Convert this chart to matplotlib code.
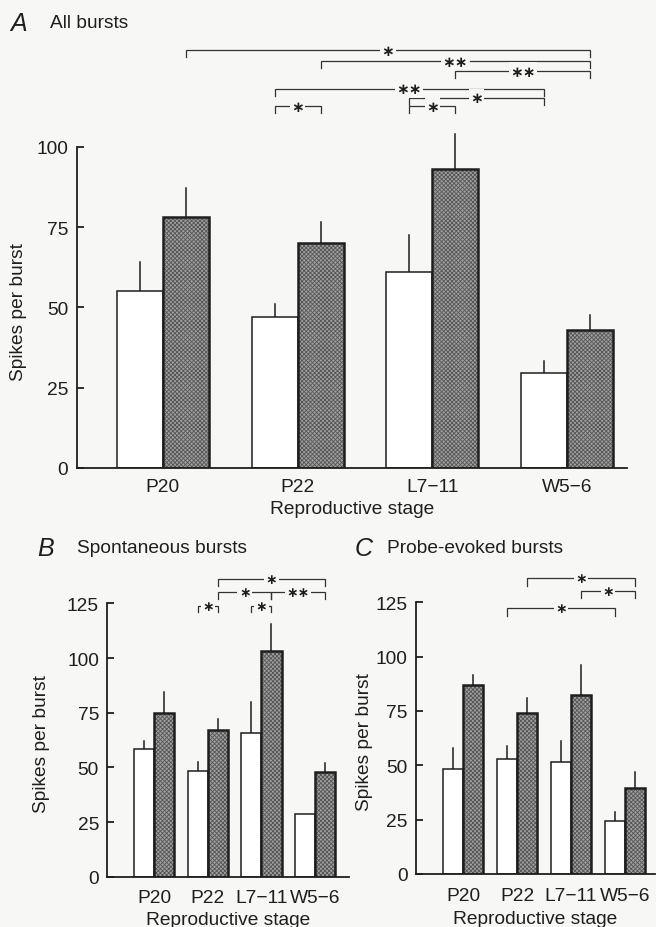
import matplotlib
matplotlib.use("Agg")
import matplotlib.pyplot as plt
import numpy as np

plt.rcParams['font.family'] = ['Liberation Sans', 'DejaVu Sans']
plt.rcParams['hatch.linewidth'] = 0.6

STAGES = ["P20", "P22", "L7\u221211", "W5\u22126"]

# panel A: all bursts
A_WHITE = [55, 47, 61, 29.5]
A_WHITE_ERR = [9, 4, 11.5, 3.7]
A_GREY = [78, 70, 93, 43]
A_GREY_ERR = [9, 6.5, 11, 4.5]
# (start bar, end bar, level, label); bar index = 2*group + (0 white, 1 grey)
A_SIG = [(1, 7, 130, "*"), (3, 7, 126.6, "**"), (5, 7, 123.5, "**"),
         (2, 6, 118, "**"), (4, 6, 115.3, "*"), (2, 3, 112.6, "*"), (4, 5, 112.6, "*")]

# panel B: spontaneous bursts
B_WHITE = [58.5, 48.5, 65.5, 28.5]
B_WHITE_ERR = [3.5, 4, 14.5, 0]
B_GREY = [75, 67, 103, 48]
B_GREY_ERR = [9.5, 5, 12.5, 4]
B_SIG = [(3, 7, 136, "*"), (3, 5, 130, "*"), (5, 7, 130, "**"),
         (2, 3, 124, "*"), (4, 5, 124, "*")]

# panel C: probe-evoked bursts
C_WHITE = [48.5, 53, 51.5, 24.5]
C_WHITE_ERR = [9.5, 6, 9.5, 4]
C_GREY = [87, 74, 82.5, 39.5]
C_GREY_ERR = [4.5, 7, 13.5, 7.5]
C_SIG = [(3, 7, 136, "*"), (5, 7, 130.4, "*"), (2, 6, 122.3, "*")]

BG = "#f7f7f5"
FS = 13.8
INK = "#1e1e1e"


def bracket(ax, x1, x2, y, label, drop, fs):
    ax.plot([x1, x1, x2, x2], [y - drop, y, y, y - drop], color="#333333",
            lw=0.9, clip_on=False, solid_joinstyle="miter")
    ax.text((x1 + x2) / 2, y, label.replace("*", "\u2217"), ha="center", va="center",
            fontsize=fs, fontweight="bold", family="DejaVu Sans", color=INK,
            bbox=dict(fc=BG, ec="none", pad=1.0), clip_on=False)


def panel(ax, white, white_err, grey, grey_err, sig, width, ymax, ytop,
          xlim, drop, star_fs, xpad):
    x = np.arange(len(STAGES))
    xw = x - width / 2
    xg = x + width / 2
    ax.bar(xw, white, width, color="white", edgecolor=INK, linewidth=1.1, zorder=2)
    ax.bar(xg, grey, width, color="#a0a0a0", edgecolor="#555555", hatch="xxxxxxxx",
           linewidth=0, zorder=2)
    ax.bar(xg, grey, width, color="none", edgecolor=INK, linewidth=1.8, zorder=3)
    for xs, vals, errs in ((xw, white, white_err), (xg, grey, grey_err)):
        for xi, v, e in zip(xs, vals, errs):
            if e > 0:
                ax.plot([xi, xi], [v, v + e], color=INK, lw=1.1, zorder=1,
                        clip_on=False)
    centres = np.ravel(np.column_stack([xw, xg]))
    for i, j, y, lab in sig:
        bracket(ax, centres[i], centres[j], y, lab, drop, star_fs)

    ax.set_xlim(*xlim)
    ax.set_ylim(0, ymax)
    ax.set_xticks(x, labels=STAGES)
    ax.set_yticks(np.arange(0, ytop + 1, 25))
    ax.spines[["top", "right"]].set_visible(False)
    ax.spines["left"].set_bounds(0, ytop)
    for side in ("left", "bottom"):
        ax.spines[side].set_linewidth(1.3)
        ax.spines[side].set_color(INK)
    ax.tick_params(axis="y", direction="in", length=5, width=1.3, labelsize=FS,
                   pad=6, colors=INK)
    ax.tick_params(axis="x", length=0, labelsize=FS, pad=xpad, colors=INK)
    ax.set_facecolor(BG)
    ax.set_xlabel("Reproductive stage", fontsize=FS, color=INK, labelpad=4)
    ax.set_ylabel("Spikes per burst", fontsize=FS, color=INK)


fig = plt.figure(figsize=(6.56, 9.28), dpi=100, facecolor=BG)
W, H = 656, 928

# panel A axes placed in pixel units
axA = fig.add_axes([76.7 / W, (H - 469) / H, (627 - 76.7) / W, (135 * 3.213) / H])
panel(axA, A_WHITE, A_WHITE_ERR, A_GREY, A_GREY_ERR, A_SIG, 0.342, 135, 100,
      (-0.64, 3.445), 2.2, 11, 7)
axA.yaxis.set_label_coords(-0.09, 49 / 135)

axB = fig.add_axes([107.3 / W, (H - 877.7) / H, (349.3 - 107.3) / W, (142 * 2.187) / H])
panel(axB, B_WHITE, B_WHITE_ERR, B_GREY, B_GREY_ERR, B_SIG, 0.375, 142, 125,
      (-0.877, 3.64), 3.0, 10, 8.5)
axB.yaxis.set_label_coords(-0.237, 61 / 142)

axC = fig.add_axes([416 / W, (H - 875) / H, (655 - 416) / W, (142 * 2.174) / H])
panel(axC, C_WHITE, C_WHITE_ERR, C_GREY, C_GREY_ERR, C_SIG, 0.375, 142, 125,
      (-0.877, 3.56), 3.5, 10, 9.5)
axC.yaxis.set_label_coords(-0.18, 61 / 142)

# panel titles
for xl, xt, y, letter, title in ((10, 50, 24, "A", "All bursts"),
                                 (37, 77, 549, "B", "Spontaneous bursts"),
                                 (355, 387, 549, "C", "Probe-evoked bursts")):
    fig.text(xl / W, 1 - y / H, letter, fontsize=18, style="italic", va="center",
             ha="left", color=INK)
    fig.text(xt / W, 1 - y / H, title, fontsize=FS, va="center", ha="left",
             color=INK)

fig.savefig("out.png", dpi=100, facecolor=BG)
